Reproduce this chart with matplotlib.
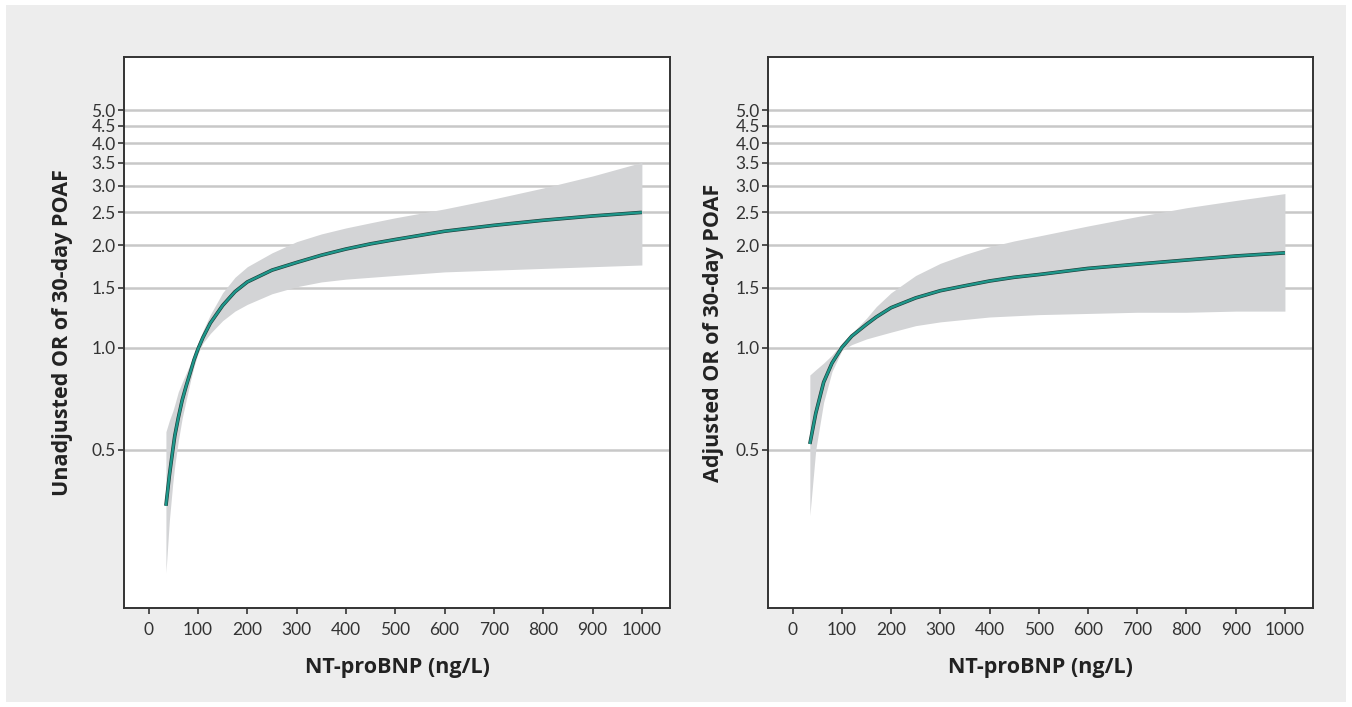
#spline curves of OR vs NT-proBNP, unadjusted and adjusted

import matplotlib
matplotlib.use("Agg")
import matplotlib.pyplot as plt
from matplotlib.patches import Rectangle
from matplotlib.ticker import FixedLocator, NullLocator

plt.rcParams['font.family'] = ['Lato', 'DejaVu Sans']

#left panel (unadjusted)
unadjX = [35, 42, 49, 53, 60, 68, 76, 85, 92, 100, 110, 125, 150, 175, 200, 250, 300, 350, 400, 450, 500, 600, 700, 800, 900, 1000]
unadjOR = [0.342, 0.42, 0.50, 0.55, 0.62, 0.70, 0.77, 0.85, 0.92, 0.99, 1.07, 1.18, 1.33, 1.46, 1.56, 1.69, 1.78, 1.87, 1.95, 2.02, 2.08, 2.20, 2.29, 2.37, 2.44, 2.50]
unadjLow = [0.217, 0.31, 0.40, 0.45, 0.53, 0.62, 0.70, 0.80, 0.88, 0.96, 1.03, 1.10, 1.20, 1.28, 1.34, 1.44, 1.51, 1.56, 1.59, 1.61, 1.63, 1.67, 1.69, 1.71, 1.73, 1.75]
unadjHigh = [0.565, 0.61, 0.65, 0.68, 0.74, 0.79, 0.84, 0.90, 0.96, 1.03, 1.12, 1.25, 1.45, 1.61, 1.73, 1.90, 2.05, 2.16, 2.25, 2.33, 2.41, 2.56, 2.74, 2.95, 3.20, 3.51]

#right panel (adjusted)
adjX = [35, 47, 63, 80, 100, 120, 150, 170, 200, 250, 300, 350, 400, 450, 500, 600, 700, 800, 900, 1000]
adjOR = [0.52, 0.64, 0.79, 0.90, 1.0, 1.08, 1.17, 1.23, 1.31, 1.40, 1.47, 1.52, 1.57, 1.61, 1.64, 1.71, 1.76, 1.81, 1.86, 1.90]
adjLow = [0.32, 0.50, 0.69, 0.85, 0.98, 1.02, 1.06, 1.08, 1.11, 1.16, 1.19, 1.21, 1.23, 1.24, 1.25, 1.26, 1.27, 1.27, 1.28, 1.28]
adjHigh = [0.83, 0.86, 0.90, 0.95, 1.03, 1.10, 1.22, 1.32, 1.45, 1.63, 1.77, 1.88, 1.98, 2.06, 2.13, 2.28, 2.43, 2.58, 2.71, 2.84]

yTicks = [0.5, 1.0, 1.5, 2.0, 2.5, 3.0, 3.5, 4.0, 4.5, 5.0]
xTicks = [0, 100, 200, 300, 400, 500, 600, 700, 800, 900, 1000]


def drawPanel(ax, x, orv, low, high, ylabel, ypad):

    ax.fill_between(x, low, high, color="#d3d4d6", linewidth=0, zorder=2)
    ax.plot(x, orv, color="#1f3f3a", linewidth=2.6, zorder=3, solid_capstyle="butt")
    ax.plot(x, orv, color="#1e978b", linewidth=1.7, zorder=4, solid_capstyle="butt")

    ax.set_yscale("log")
    ax.set_ylim(0.171, 7.17)
    ax.set_xlim(-50, 1057)

    ax.yaxis.set_major_locator(FixedLocator(yTicks))
    ax.yaxis.set_minor_locator(NullLocator())
    ax.set_yticklabels(["{:.1f}".format(t) for t in yTicks])
    ax.set_xticks(xTicks)

    ax.grid(axis="y", color="#c8c8c8", linewidth=1.8, zorder=1)
    ax.set_axisbelow(True)

    for s in ax.spines.values():
        s.set_color("#333333")
        s.set_linewidth(1.4)

    ax.tick_params(axis="both", labelsize=12.5, colors="#333333", length=4, width=1.2)
    ax.tick_params(axis="y", pad=2)
    ax.tick_params(axis="x", pad=6)

    ax.set_xlabel("NT-proBNP (ng/L)", fontsize=15.5, fontweight="bold", color="#222222", labelpad=14,
                  family=["Open Sans", "DejaVu Sans"])
    ax.set_ylabel(ylabel, fontsize=15.5, fontweight="bold", color="#222222", labelpad=ypad,
                  family=["Open Sans", "DejaVu Sans"])


fig = plt.figure(figsize=(13.52, 7.07), dpi=100)
fig.patch.set_facecolor("white")
fig.patches.append(Rectangle((6 / 1352, 5 / 707), 1340 / 1352, 697 / 707, transform=fig.transFigure,
                             facecolor="#ededed", edgecolor="none", zorder=-10))

axL = fig.add_axes([124 / 1352, 99 / 707, 546 / 1352, 551 / 707])
axR = fig.add_axes([768 / 1352, 99 / 707, 545 / 1352, 551 / 707])

drawPanel(axL, unadjX, unadjOR, unadjLow, unadjHigh, "Unadjusted OR of 30-day POAF", 13)
drawPanel(axR, adjX, adjOR, adjLow, adjHigh, "Adjusted OR of 30-day POAF", 8)

fig.savefig("out.png", dpi=100, facecolor=fig.get_facecolor())
